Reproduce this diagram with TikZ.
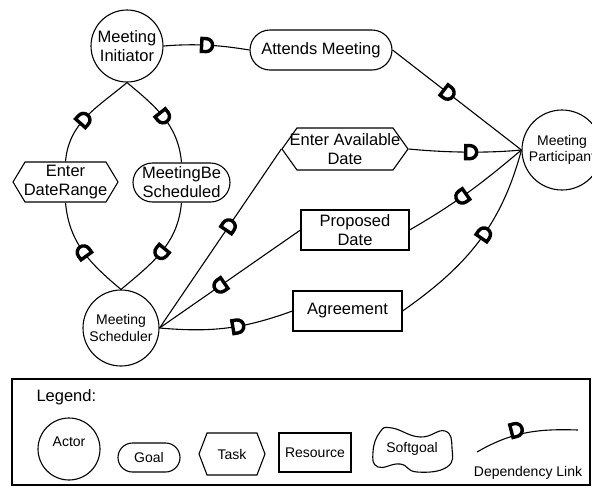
\documentclass[tikz,border=0pt]{standalone}
\usepackage{fontspec}
\setmainfont{Liberation Sans}
\usetikzlibrary{shapes.symbols,decorations.markings}

% the "D" symbol of a dependency link; its round side points along the path
\newcommand{\depglyph}{%
  \draw[line width=3.4pt, fill=white, line join=miter]
    (-5pt,-6.5pt) -- (-5pt,6.5pt) -- (-0.5pt,6.5pt)
    arc[start angle=90, end angle=-90, radius=6.5pt] -- cycle;}

\tikzset{
  base/.style={draw, line width=1.1pt, inner sep=0pt, align=center},
  bigtext/.style={font=\fontsize{16.5}{19}\selectfont},
  smalltext/.style={font=\fontsize{14}{16.5}\selectfont},
  actor/.style={base, circle, minimum size=#1},
  goal/.style={base, rectangle, rounded corners=#1},
  resource/.style={base, rectangle},
  task/.style={base, signal, signal to=east and west, signal pointer angle=#1},
  dep/.style={line width=1.1pt,
    decoration={markings, mark=at position #1 with {\depglyph}},
    postaction={decorate}},
}

\begin{document}
\begin{tikzpicture}[x=1pt, y=-1pt]
\useasboundingbox (0,0) rectangle (592,488);

% actors
\node[actor=72, bigtext] (mi) at (127,46) {Meeting\\Initiator};
\node[actor=76, smalltext] (sch) at (121,328) {Meeting\\Scheduler};
\node[actor=80, smalltext] (mp) at (562,150) {Meeting\\Participant};

% goals, tasks, resources
\node[goal=20pt, bigtext, minimum width=142, minimum height=40] (am) at (321,50) {Attends Meeting};
\node[goal=19.5pt, bigtext, minimum width=97, minimum height=39] (mbs) at (181.5,182.5) {MeetingBe\\Scheduled};
\node[task=118, minimum width=105, minimum height=40,
      label={[bigtext, align=center]center:{Enter\\DateRange}}] (edr) at (65.5,182) {};
\node[task=109, minimum width=126, minimum height=42,
      label={[bigtext, align=center]center:{Enter Available\\Date}}] (ead) at (345,149) {};
\node[resource, bigtext, minimum width=108, minimum height=40] (pd) at (355,230) {Proposed\\Date};
\node[resource, bigtext, minimum width=109, minimum height=40] (ag) at (347.5,311) {Agreement};

% dependency links (drawn from depender towards dependee)
\draw[dep=0.5] (mi.east) .. controls (200,43) and (225,46) .. (am.west);
\draw[dep=0.43] (am.east) -- (mp.west);
\draw[dep=0.45] (edr.north) to[out=85, in=220] (mi.south);
\draw[dep=0.5] (mi.south) to[out=-40, in=95] (mbs.north);
\draw[dep=0.5] (sch.north) to[out=140, in=-85] (edr.south);
\draw[dep=0.5] (mbs.south) to[out=-95, in=40] (sch.north);
\draw[dep=0.57] (sch.east) -- (ead.west);
\draw[dep=0.55] (ead.east) .. controls (450,153) and (490,153) .. (mp.west);
\draw[dep=0.57] (pd.west) -- (sch.east);
\draw[dep=0.55] (mp.west) to[out=-140, in=30] (pd.east);
\draw[dep=0.58] (sch.east) to[out=-5, in=200] (ag.west);
\draw[dep=0.55] (ag.east) to[out=35, in=-105] (mp.west);

% legend
\draw[line width=1.4pt] (12,379) rectangle (590,485);
\node[bigtext, anchor=west] (ltitle) at (33,397) {Legend:};
\node[actor=62] (lact) at (69,449) {};
\node[smalltext] (lacttxt) at ([yshift=7pt]lact.center) {Actor};
\node[goal=14.5pt, smalltext, minimum width=62, minimum height=29] (lgoal) at (149,457.5) {Goal};
\node[task=138, minimum width=66, minimum height=42,
      label={[smalltext]center:Task}] (ltask) at (232,454) {};
\node[resource, smalltext, minimum width=72, minimum height=39] (lres) at (315,452.5) {Resource};
\draw[line width=1.1pt] plot[smooth cycle, tension=0.8] coordinates
  {(380,432) (392,428) (420,437) (445,431) (452,448) (447,467)
   (417,472) (400,464) (378,467) (373,452)};
\node[smalltext] (lsg) at (412,449) {Softgoal};
\coordinate (lk1) at (477,452);
\coordinate (lk2) at (578,430);
\draw[line width=1.1pt,
      decoration={markings, mark=at position 0.42 with {\begin{scope}[yshift=5pt]\depglyph\end{scope}}},
      postaction={decorate}] (lk1) to[out=30, in=178] (lk2);
\node[smalltext] (lktxt) at (528,473) {Dependency Link};
\end{tikzpicture}
\end{document}
